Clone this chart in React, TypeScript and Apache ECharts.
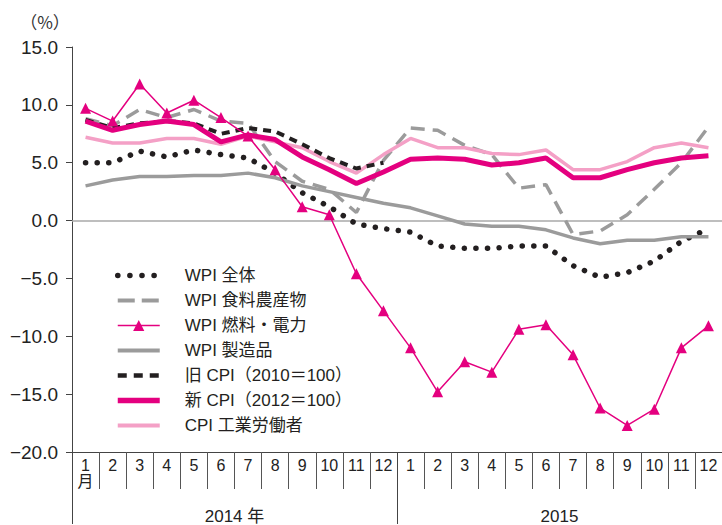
import React, { useEffect, useRef } from "react";
import * as echarts from "echarts";

const months = ["1\n月", "2", "3", "4", "5", "6", "7", "8", "9", "10", "11", "12", "1", "2", "3", "4", "5", "6", "7", "8", "9", "10", "11", "12"];
const years = ["2014 年", "2015"];

const wpiAll = [5.0, 5.0, 6.0, 5.5, 6.1, 5.7, 5.4, 4.1, 2.4, 1.2, -0.3, -0.7, -1.0, -2.2, -2.4, -2.4, -2.2, -2.2, -3.9, -4.9, -4.5, -3.5, -1.8, -0.7];
const wpiFood = [8.8, 8.2, 9.6, 8.9, 9.6, 8.6, 8.4, 5.1, 3.4, 2.7, 0.7, 5.2, 8.0, 7.8, 6.5, 5.7, 2.8, 3.1, -1.2, -0.9, 0.5, 2.7, 5.0, 8.1];
const wpiFuel = [9.7, 8.6, 11.8, 9.3, 10.4, 8.9, 7.3, 4.4, 1.2, 0.5, -4.6, -7.8, -11.0, -14.8, -12.2, -13.1, -9.4, -9.0, -11.6, -16.2, -17.7, -16.3, -11.0, -9.1];
const wpiMfg = [3.0, 3.5, 3.8, 3.8, 3.9, 3.9, 4.1, 3.7, 3.0, 2.5, 2.0, 1.5, 1.1, 0.4, -0.3, -0.5, -0.5, -0.8, -1.5, -2.0, -1.7, -1.7, -1.4, -1.4];
const oldCpi = [8.7, 8.0, 8.4, 8.6, 8.4, 7.5, 8.0, 7.7, 6.6, 5.4, 4.5, 5.0, null, null, null, null, null, null, null, null, null, null, null, null];
const newCpi = [8.6, 7.8, 8.3, 8.6, 8.3, 6.8, 7.4, 7.0, 5.5, 4.4, 3.2, 4.2, 5.3, 5.4, 5.3, 4.8, 5.0, 5.4, 3.7, 3.7, 4.4, 5.0, 5.4, 5.6];
const cpiIw = [7.2, 6.7, 6.7, 7.1, 7.1, 6.6, 7.3, 6.8, 6.3, 5.1, 4.1, 5.7, 7.1, 6.3, 6.3, 5.8, 5.7, 6.1, 4.4, 4.4, 5.1, 6.3, 6.7, 6.3];

const names = ["WPI 全体", "WPI 食料農産物", "WPI 燃料・電力", "WPI 製造品", "旧 CPI（2010＝100）", "新 CPI（2012＝100）", "CPI 工業労働者"];

const MAGENTA = "#e4007f";
const PINK = "#f4a0c6";
const GRAY = "#9b9b9b";
const BLACK = "#231f20";
const FONT = "'Liberation Sans', 'Noto Sans CJK JP', sans-serif";
const NARROW = "'Liberation Sans Narrow', 'Liberation Sans', 'Noto Sans CJK JP', sans-serif";

export default function App() {
  const ref = useRef<HTMLDivElement>(null);
  useEffect(() => {
    if (!ref.current) return;
    const chart = echarts.init(ref.current, null, { renderer: "svg" });
    const line = (name: string, data: (number | null)[], style: any, extra: any = {}) => ({
      name,
      type: "line",
      data,
      symbol: "none",
      lineStyle: style,
      itemStyle: { color: style.color },
      ...extra,
    });
    const legendStyles: Record<string, any> = {
      [names[0]]: { width: 5.5, type: [0.1, 12], cap: "round" },
      [names[1]]: { width: 4, type: [17, 7] },
      [names[3]]: { width: 4, type: "solid" },
      [names[4]]: { width: 4.5, type: [9, 7] },
      [names[5]]: { width: 5.5, type: "solid" },
      [names[6]]: { width: 4, type: "solid" },
    };
    chart.setOption({
      animation: false,
      backgroundColor: "#fff",
      grid: { left: 72, top: 47, width: 656, height: 407, containLabel: false },
      graphic: [
        {
          type: "text",
          x: 45,
          y: 21,
          style: { text: "（%）", fontSize: 17, fontFamily: "'Noto Sans CJK JP', sans-serif", fill: "#333", align: "center", verticalAlign: "middle" },
        },
      ],
      legend: {
        orient: "vertical",
        left: 115,
        top: 267,
        itemWidth: 42,
        itemHeight: 14,
        itemGap: 8,
        padding: 0,
        data: names.map((n) =>
          n === names[2]
            ? { name: n, lineStyle: { width: 1.5 } }
            : { name: n, itemStyle: { opacity: 0 }, lineStyle: legendStyles[n] }
        ),
        textStyle: { fontSize: 17, fontFamily: FONT, color: "#231f20", padding: [0, 0, 0, 20] },
      },
      xAxis: [
        {
          type: "category",
          data: months,
          position: "bottom",
          boundaryGap: true,
          axisLine: { onZero: false, lineStyle: { color: "#444", width: 1 } },
          axisTick: { show: true, interval: 0, length: 37, lineStyle: { color: "#555" } },
          axisLabel: { interval: 0, fontSize: 16, fontFamily: NARROW, color: "#222", margin: 5, lineHeight: 16 },
        },
        {
          type: "category",
          data: years,
          position: "bottom",
          boundaryGap: true,
          axisLine: { show: false, onZero: false },
          axisTick: { show: true, interval: 0, length: 72, lineStyle: { color: "#444" } },
          axisLabel: { interval: 0, fontSize: 17, fontFamily: NARROW, color: "#222", margin: 56 },
        },
      ],
      yAxis: {
        type: "value",
        min: -20,
        max: 15,
        interval: 5,
        axisLine: { show: true, lineStyle: { color: "#444" } },
        axisTick: { show: true, length: 6, lineStyle: { color: "#444" } },
        splitLine: { show: false },
        axisLabel: {
          fontSize: 19,
          fontFamily: FONT,
          color: "#222",
          margin: 14,
          formatter: (v: number) => v.toFixed(1).replace("-", "−"),
        },
      },
      series: [
        line(names[0], wpiAll, { color: BLACK, width: 5.5, type: [0.1, 11.5], cap: "round" }, {
          markLine: {
            silent: true,
            symbol: "none",
            label: { show: false },
            lineStyle: { color: "#a8a8a8", width: 1.5, type: "solid" },
            data: [{ yAxis: 0 }],
            z: 1,
          },
        }),
        line(names[1], wpiFood, { color: GRAY, width: 3.5, type: [14, 8] }),
        line(names[3], wpiMfg, { color: GRAY, width: 3.5 }),
        line(names[6], cpiIw, { color: PINK, width: 3.5 }),
        line(names[4], oldCpi, { color: BLACK, width: 4, type: [8, 6] }),
        line(names[5], newCpi, { color: MAGENTA, width: 5 }),
        {
          name: names[2],
          type: "line",
          data: wpiFuel,
          symbol: "triangle",
          symbolSize: 11,
          showSymbol: true,
          lineStyle: { color: MAGENTA, width: 1.5 },
          itemStyle: { color: MAGENTA },
          z: 5,
        },
      ],
    });
    return () => chart.dispose();
  }, []);
  return <div ref={ref} style={{ width: 722, height: 525, position: "absolute", left: 0, top: 0 }} />;
}
